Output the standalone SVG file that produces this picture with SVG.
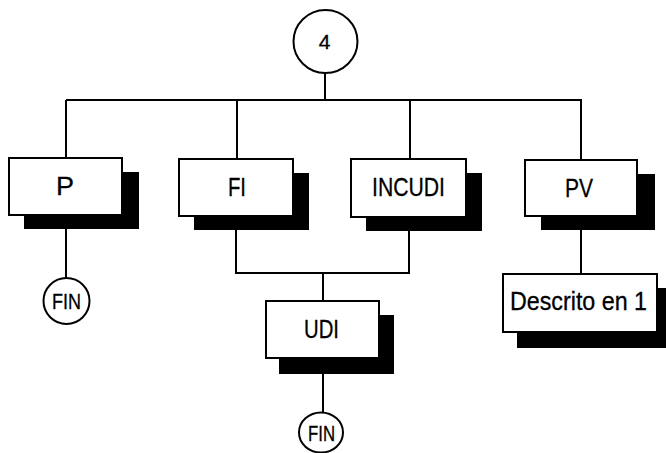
<svg xmlns="http://www.w3.org/2000/svg" width="666" height="453" viewBox="0 0 666 453">
<style>
.box{fill:#fff;stroke:#000;stroke-width:2}
.sh{fill:#000}
.circ{fill:#fff;stroke:#000;stroke-width:2}
.ln{stroke:#000;stroke-width:2;fill:none}
text{font-family:"Liberation Sans",Arial,sans-serif;fill:#000;text-anchor:middle;stroke:#000;stroke-width:0.3}
.lbl{font-size:26px}
.fin{font-size:22px}
</style>
<rect width="666" height="453" fill="#fff"/>
<g id="connectors">
<path class="ln" d="M325,73V100M66,100H582M66,100V158M237,100V159M410,100V159M581,100V160"/>
<path class="ln" d="M66,215V278M236,216V273H409V217M323,273V301M323,358V413M581,216V274"/>
</g>
<g id="n4">
<ellipse class="circ" cx="325.5" cy="41.5" rx="32" ry="31.5"/>
<text x="324.5" y="48.5" style="font-size:21px">4</text>
</g>
<g id="nP">
<rect class="sh" x="24" y="172" width="115" height="57"/>
<rect class="box" x="9" y="158" width="113" height="57"/>
<text class="lbl" x="65" y="194.5" textLength="18" lengthAdjust="spacingAndGlyphs">P</text>
</g>
<g id="nFI">
<rect class="sh" x="194" y="173" width="115" height="57"/>
<rect class="box" x="179" y="159" width="114" height="57"/>
<text class="lbl" x="237" y="196" textLength="18" lengthAdjust="spacingAndGlyphs">FI</text>
</g>
<g id="nINCUDI">
<rect class="sh" x="366" y="173" width="116" height="58"/>
<rect class="box" x="351" y="159" width="115" height="58"/>
<text class="lbl" x="408.5" y="196" textLength="73" lengthAdjust="spacingAndGlyphs">INCUDI</text>
</g>
<g id="nPV">
<rect class="sh" x="541" y="174" width="114" height="56"/>
<rect class="box" x="525" y="160" width="112" height="56"/>
<text class="lbl" x="579" y="197" textLength="28" lengthAdjust="spacingAndGlyphs">PV</text>
</g>
<g id="nUDI">
<rect class="sh" x="279" y="315" width="115" height="59"/>
<rect class="box" x="266" y="301" width="113" height="57"/>
<text class="lbl" x="321.5" y="338" textLength="35" lengthAdjust="spacingAndGlyphs">UDI</text>
</g>
<g id="nDescrito">
<rect class="sh" x="517" y="288" width="156" height="60"/>
<rect class="box" x="503" y="274" width="154" height="58"/>
<text class="lbl" x="578.5" y="310" textLength="137" lengthAdjust="spacingAndGlyphs">Descrito en 1</text>
</g>
<g id="nFIN1">
<ellipse class="circ" cx="66.5" cy="301" rx="23" ry="23"/>
<text class="fin" x="66.5" y="308.5" textLength="29" lengthAdjust="spacingAndGlyphs">FIN</text>
</g>
<g id="nFIN2">
<ellipse class="circ" cx="321" cy="432.5" rx="22" ry="20"/>
<text class="fin" x="321.5" y="441" textLength="27" lengthAdjust="spacingAndGlyphs">FIN</text>
</g>
</svg>
